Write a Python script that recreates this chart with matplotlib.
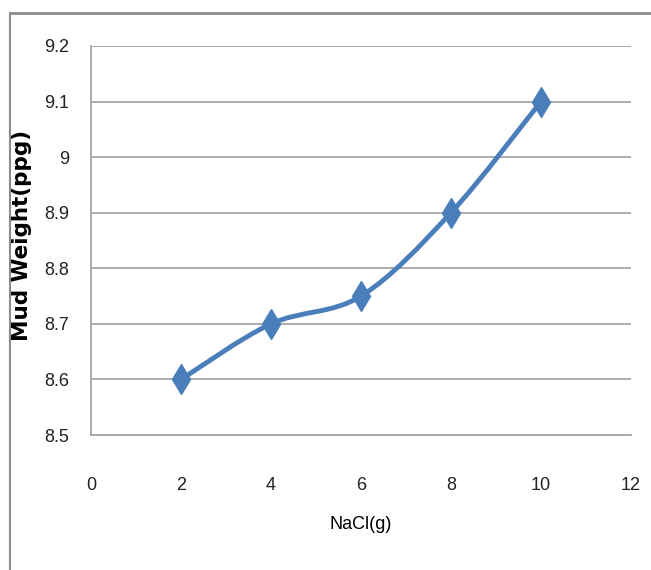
import matplotlib.pyplot as plt
from matplotlib.path import Path
from matplotlib.patches import PathPatch
from matplotlib.lines import Line2D

nacl = [2, 4, 6, 8, 10]
mud_weight = [8.6, 8.7, 8.75, 8.9, 9.1]
x_ticks = [0, 2, 4, 6, 8, 10, 12]
y_ticks = [8.5, 8.6, 8.7, 8.8, 8.9, 9.0, 9.1, 9.2]
y_labels = ["8.5", "8.6", "8.7", "8.8", "8.9", "9", "9.1", "9.2"]

plt.rcParams['font.family'] = ['Liberation Sans', 'DejaVu Sans']
blue = "#4a7ebb"
grid = "#a6a6a6"

fig = plt.figure(figsize=(6.51, 5.70), dpi=100)
ax = fig.add_axes([91 / 651, 1 - 435 / 570, 540 / 651, 389 / 570])

# smoothed line (Excel style bezier through the points)
pts = list(zip(nacl, mud_weight))
verts = [pts[0]]
codes = [Path.MOVETO]
for i in range(len(pts) - 1):
    p0 = pts[max(i - 1, 0)]
    p1 = pts[i]
    p2 = pts[i + 1]
    p3 = pts[min(i + 2, len(pts) - 1)]
    c1 = (p1[0] + (p2[0] - p0[0]) / 6, p1[1] + (p2[1] - p0[1]) / 6)
    c2 = (p2[0] - (p3[0] - p1[0]) / 6, p2[1] - (p3[1] - p1[1]) / 6)
    verts += [c1, c2, p2]
    codes += [Path.CURVE4] * 3
ax.add_patch(PathPatch(Path(verts, codes), facecolor="none", edgecolor=blue,
                       lw=3.5, capstyle="round", zorder=3))
ax.plot(nacl, mud_weight, linestyle="none", marker="d", markersize=15,
        color=blue, zorder=4)

ax.set_xlim(0, 12)
ax.set_ylim(8.5, 9.2)
ax.set_xticks(x_ticks)
ax.set_yticks(y_ticks)
ax.set_yticklabels(y_labels)
ax.tick_params(axis="both", length=0, labelsize=13, colors="#222222")
ax.tick_params(axis="x", pad=30)
ax.tick_params(axis="y", pad=16)
ax.yaxis.grid(True, color=grid, lw=1.3)
ax.set_axisbelow(True)
for s in ["top", "right"]:
    ax.spines[s].set_visible(False)
for s in ["left", "bottom"]:
    ax.spines[s].set_color(grid)
    ax.spines[s].set_linewidth(1.3)

ax.set_xlabel("NaCl(g)", fontsize=13, labelpad=16)
fig.text(22 / 651, 1 - 235 / 570, "Mud Weight(ppg)", rotation=90,
         ha="center", va="center", fontsize=15.5, fontweight="bold",
         family=["DejaVu Sans"])

# outer chart border (top and left visible)
fig.add_artist(Line2D([9.5 / 651, 1], [1 - 12.5 / 570] * 2, color="#8c8c8c", lw=2))
fig.add_artist(Line2D([9.5 / 651] * 2, [0, 1 - 12.5 / 570], color="#8c8c8c", lw=1.5))

fig.savefig("out.png", dpi=100)
